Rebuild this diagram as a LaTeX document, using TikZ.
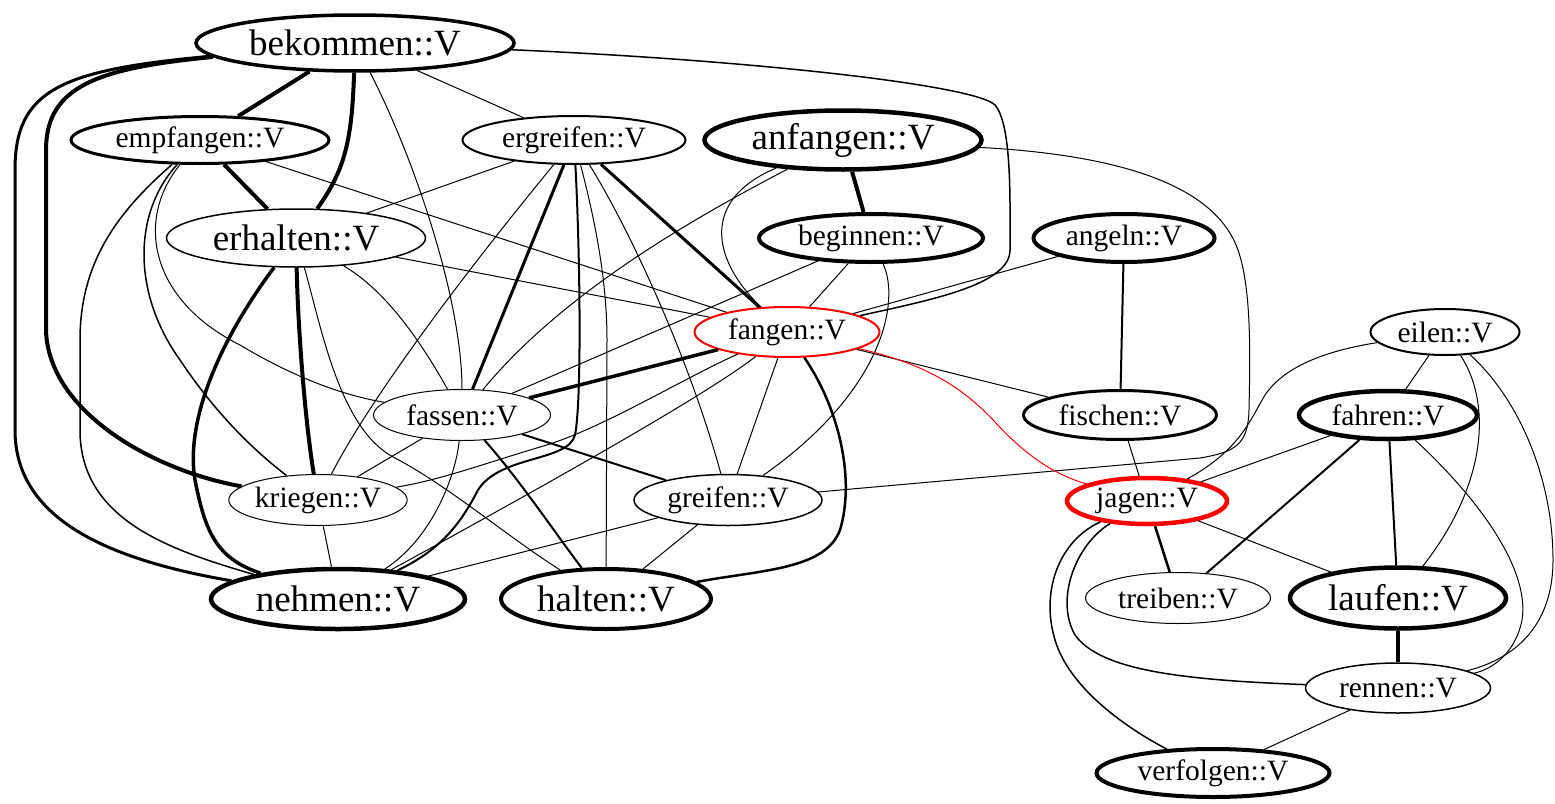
\documentclass[tikz,border=0pt]{standalone}
\usepackage{fontspec}
\setmainfont{Liberation Serif}
\usetikzlibrary{shapes.geometric}
\begin{document}
\begin{tikzpicture}[x=1pt,y=-1pt,
  vn/.style={ellipse, draw, inner sep=0pt, font=\fontsize{29.5}{32}\selectfont},
  bigf/.style={font=\fontsize{37}{40}\selectfont},
  w1/.style={line width=1pt},
  w15/.style={line width=1.5pt},
  w2/.style={line width=2pt},
  w25/.style={line width=2.5pt},
  w3/.style={line width=3pt},
  w35/.style={line width=3.5pt},
  w4/.style={line width=4pt}]
\useasboundingbox (0,0) rectangle (1555,803);
% nodes
\node[vn,bigf,line width=3.5pt,minimum width=318pt,minimum height=56pt] (bekommen) at (355,43) {bekommen::V};
\node[vn,line width=3pt,minimum width=258pt,minimum height=47pt] (empfangen) at (200,140) {empfangen::V};
\node[vn,line width=2pt,minimum width=223pt,minimum height=48pt] (ergreifen) at (574,140) {ergreifen::V};
\node[vn,bigf,line width=4.5pt,minimum width=277pt,minimum height=59pt] (anfangen) at (843,140) {anfangen::V};
\node[vn,bigf,line width=1.5pt,minimum width=259pt,minimum height=58pt] (erhalten) at (296,238) {erhalten::V};
\node[vn,line width=4pt,minimum width=224pt,minimum height=48pt] (beginnen) at (871,238) {beginnen::V};
\node[vn,line width=4pt,minimum width=181pt,minimum height=48pt] (angeln) at (1124,238) {angeln::V};
\node[vn,draw=red,line width=2pt,minimum width=185pt,minimum height=50pt] (fangen) at (787,332) {fangen::V};
\node[vn,line width=2pt,minimum width=149pt,minimum height=46pt] (eilen) at (1445,332) {eilen::V};
\node[vn,line width=1pt,minimum width=177pt,minimum height=51pt] (fassen) at (462,415) {fassen::V};
\node[vn,line width=3pt,minimum width=193pt,minimum height=49pt] (fischen) at (1120,415) {fischen::V};
\node[vn,line width=4.5pt,minimum width=178pt,minimum height=48pt] (fahren) at (1388,415) {fahren::V};
\node[vn,line width=1pt,minimum width=178pt,minimum height=51pt] (kriegen) at (318,500) {kriegen::V};
\node[vn,line width=1.5pt,minimum width=188pt,minimum height=51pt] (greifen) at (728,500) {greifen::V};
\node[vn,draw=red,line width=4.5pt,minimum width=160pt,minimum height=46pt] (jagen) at (1147,501) {jagen::V};
\node[vn,bigf,line width=4.5pt,minimum width=254pt,minimum height=60pt] (nehmen) at (338,599) {nehmen::V};
\node[vn,bigf,line width=4pt,minimum width=210pt,minimum height=60pt] (halten) at (606,599) {halten::V};
\node[vn,line width=1pt,minimum width=185pt,minimum height=51pt] (treiben) at (1178,598) {treiben::V};
\node[vn,bigf,line width=4.5pt,minimum width=216pt,minimum height=61pt] (laufen) at (1398,598) {laufen::V};
\node[vn,line width=1.5pt,minimum width=185pt,minimum height=50pt] (rennen) at (1398,688) {rennen::V};
\node[vn,line width=4pt,minimum width=233pt,minimum height=48pt] (verfolgen) at (1213,773) {verfolgen::V};
% bekommen
\draw[w4] (bekommen) -- (empfangen);
\draw[w4] (bekommen) .. controls (352,140) and (345,170) .. (erhalten);
\draw[w4] (bekommen) .. controls (100,68) and (46,85) .. (46,150) -- (46,330) .. controls (48,410) and (150,470) .. (kriegen);
\draw[w3] (bekommen) .. controls (60,70) and (15,90) .. (15,170) -- (15,430) .. controls (15,520) and (110,560) .. (nehmen);
\draw[w1] (bekommen) .. controls (415,160) and (462,300) .. (fassen);
\draw[w1] (bekommen) -- (ergreifen);
\draw[w15] (bekommen) .. controls (750,60) and (975,85) .. (995,105) .. controls (1012,125) and (1010,200) .. (1010,250) .. controls (1010,285) and (930,300) .. (fangen);
% empfangen
\draw[w4] (empfangen) -- (erhalten);
\draw[w1] (empfangen) -- (fangen);
\draw[w15] (empfangen) .. controls (135,210) and (130,290) .. (180,360) .. controls (220,420) and (260,455) .. (kriegen);
\draw[w15] (empfangen) .. controls (120,210) and (80,260) .. (80,340) -- (80,430) .. controls (80,520) and (170,550) .. (nehmen);
\draw[w1] (empfangen) .. controls (135,220) and (150,300) .. (240,345) .. controls (290,375) and (340,395) .. (fassen);
% ergreifen
\draw[w1] (ergreifen) -- (erhalten);
\draw[w1] (ergreifen) .. controls (500,230) and (380,380) .. (kriegen);
\draw[w3] (ergreifen) -- (fassen);
\draw[w2] (ergreifen) .. controls (580,250) and (582,400) .. (575,435) .. controls (568,462) and (500,455) .. (478,490) .. controls (460,525) and (440,550) .. (nehmen);
\draw[w1] (ergreifen) .. controls (595,220) and (607,280) .. (607,340) -- (halten);
\draw[w1] (ergreifen) .. controls (630,230) and (690,360) .. (greifen);
\draw[w3] (ergreifen) -- (fangen);
% anfangen
\draw[w4] (anfangen) -- (beginnen);
\draw[w1] (anfangen) .. controls (700,215) and (565,290) .. (fassen);
\draw[w1] (anfangen) .. controls (700,200) and (712,260) .. (fangen);
\draw[w1] (anfangen) .. controls (1120,155) and (1215,185) .. (1238,250) .. controls (1252,290) and (1250,360) .. (1249,410) .. controls (1248,445) and (1235,452) .. (1200,458) -- (greifen);
% beginnen
\draw[w1] (beginnen) -- (fassen);
\draw[w1] (beginnen) -- (fangen);
\draw[w1] (beginnen) .. controls (900,300) and (885,390) .. (greifen);
% angeln
\draw[w1] (angeln) -- (fangen);
\draw[w2] (angeln) -- (fischen);
% erhalten
\draw[w4] (erhalten) .. controls (298,330) and (305,420) .. (kriegen);
\draw[w35] (erhalten) .. controls (220,340) and (185,420) .. (195,480) .. controls (205,530) and (215,558) .. (nehmen);
\draw[w1] (erhalten) -- (fangen);
\draw[w1] (erhalten) .. controls (385,290) and (420,340) .. (fassen);
\draw[w1] (erhalten) .. controls (322,330) and (340,430) .. (395,458) .. controls (450,487) and (505,535) .. (halten);
% fangen
\draw[w35] (fangen) -- (fassen);
\draw[w1] (fangen) .. controls (680,380) and (600,430) .. (540,447) .. controls (480,465) and (440,480) .. (kriegen);
\draw[w1] (fangen) .. controls (700,400) and (500,510) .. (nehmen);
\draw[w1] (fangen) -- (greifen);
\draw[w25] (fangen) .. controls (840,410) and (855,480) .. (840,530) .. controls (825,570) and (760,570) .. (halten);
\draw[w1] (fangen) -- (fischen);
\draw[w1,red] (fangen) .. controls (930,365) and (965,390) .. (995,422) .. controls (1025,455) and (1055,475) .. (jagen);
% fassen
\draw[w1] (fassen) -- (kriegen);
\draw[w1] (fassen) .. controls (455,480) and (430,540) .. (nehmen);
\draw[w2] (fassen) -- (greifen);
\draw[w2] (fassen) .. controls (520,480) and (560,540) .. (halten);
% lower
\draw[w1] (kriegen) -- (nehmen);
\draw[w1] (greifen) -- (nehmen);
\draw[w1] (greifen) -- (halten);
% right group
\draw[w1] (fischen) -- (jagen);
\draw[w1] (jagen) -- (fahren);
\draw[w1] (jagen) .. controls (1240,450) and (1250,420) .. (1265,395) .. controls (1285,365) and (1330,350) .. (eilen);
\draw[w25] (jagen) -- (treiben);
\draw[w1] (jagen) -- (laufen);
\draw[w15] (jagen) .. controls (1075,545) and (1055,600) .. (1075,635) .. controls (1100,670) and (1180,680) .. (rennen);
\draw[w15] (jagen) .. controls (1060,540) and (1040,590) .. (1055,640) .. controls (1070,690) and (1130,730) .. (verfolgen);
\draw[w2] (fahren) -- (treiben);
\draw[w2] (fahren) -- (laufen);
\draw[w1] (fahren) .. controls (1480,500) and (1530,570) .. (1522,620) .. controls (1515,655) and (1490,670) .. (rennen);
\draw[w1] (eilen) -- (fahren);
\draw[w1] (eilen) .. controls (1490,400) and (1490,480) .. (laufen);
\draw[w1] (eilen) .. controls (1520,400) and (1553,480) .. (1553,560) .. controls (1553,630) and (1510,660) .. (rennen);
\draw[w4] (laufen) -- (rennen);
\draw[w1] (rennen) -- (verfolgen);
\end{tikzpicture}
\end{document}
